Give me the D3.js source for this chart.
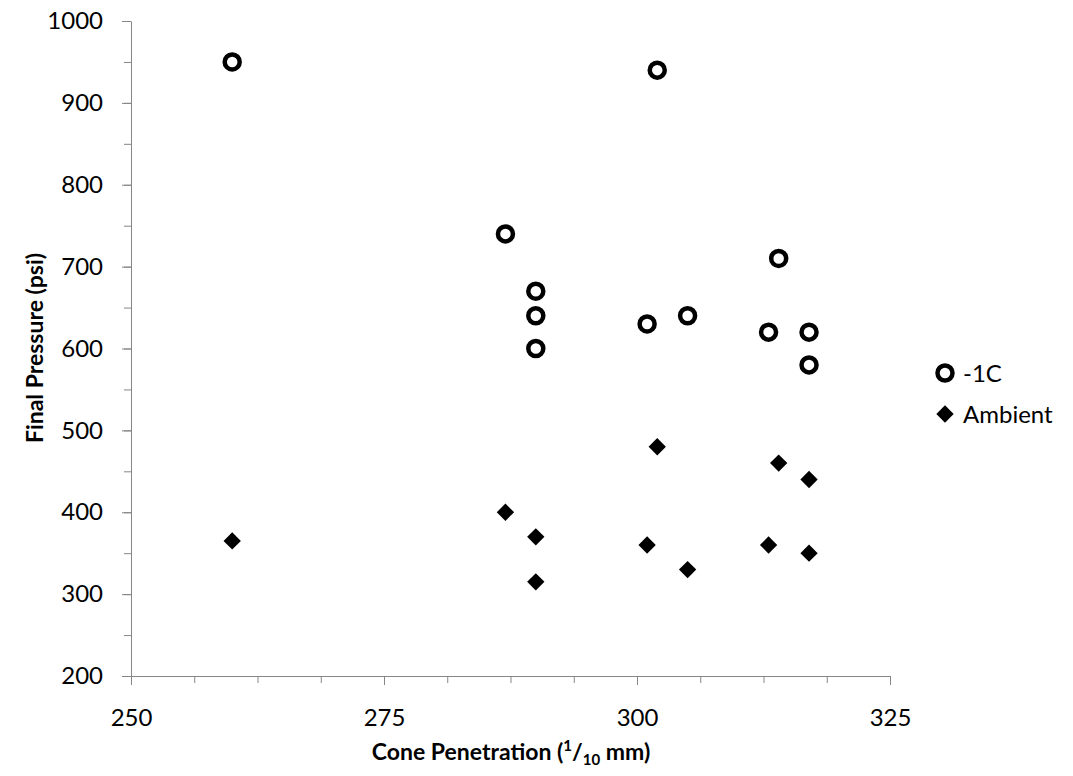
<!DOCTYPE html>
<html>
<head>
<meta charset="utf-8">
<script src="https://cdn.jsdelivr.net/npm/d3@7"></script>
<style>
  body { margin: 0; background: #fff; }
  text { font-family: Lato, "Open Sans", sans-serif; fill: #000; }
</style>
</head>
<body>
<div id="scatter"></div>
<script>
// data
var penetration1C = [260, 302, 287, 290, 290, 290, 301, 305, 313, 314, 317, 317];
var pressure1C    = [950, 940, 740, 670, 640, 600, 630, 640, 620, 710, 620, 580];
var penetrationAmb = [260, 287, 290, 290, 301, 302, 305, 313, 314, 317, 317];
var pressureAmb    = [365, 400, 370, 315, 360, 480, 330, 360, 460, 440, 350];
var xTicks = [250, 275, 300, 325];
var yTicks = [200, 300, 400, 500, 600, 700, 800, 900, 1000];
var seriesNames = ["-1C", "Ambient"];

var width = 1073, height = 776;
var axisColor = "#868686";

var svg = d3.select("#scatter")
  .append("svg")
    .attr("width", width)
    .attr("height", height);

var x = d3.scaleLinear()
  .domain([250, 325])
  .range([131, 890]);
var y = d3.scaleLinear()
  .domain([200, 1000])
  .range([676, 21]);

// minor ticks first
svg.append("g")
  .attr("transform", "translate(0,676)")
  .call(d3.axisBottom(x).tickValues(d3.range(250, 325.01, 6.25)).tickSize(7).tickFormat(""))
  .call(g => g.select(".domain").remove())
  .call(g => g.selectAll("line").attr("stroke", axisColor));
svg.append("g")
  .attr("transform", "translate(131,0)")
  .call(d3.axisLeft(y).tickValues(d3.range(200, 1001, 50)).tickSize(7).tickFormat(""))
  .call(g => g.select(".domain").remove())
  .call(g => g.selectAll("line").attr("stroke", axisColor));

// X axis
svg.append("g")
  .attr("transform", "translate(0,676)")
  .call(d3.axisBottom(x).tickValues(xTicks).tickFormat(d3.format("d")).tickSizeInner(9).tickSizeOuter(0).tickPadding(24))
  .call(g => g.select(".domain").attr("stroke", axisColor))
  .call(g => g.selectAll("line").attr("stroke", axisColor))
  .call(g => g.selectAll("text").attr("font-size", "24px").attr("font-family", "Lato").attr("fill", "#000"));

// Y axis
svg.append("g")
  .attr("transform", "translate(131,0)")
  .call(d3.axisLeft(y).tickValues(yTicks).tickFormat(d3.format("d")).tickSizeInner(9).tickSizeOuter(0).tickPadding(19))
  .call(g => g.select(".domain").attr("stroke", axisColor))
  .call(g => g.selectAll("line").attr("stroke", axisColor))
  .call(g => g.selectAll("text").attr("font-size", "24px").attr("font-family", "Lato").attr("fill", "#000"));

// axis titles
var xt = svg.append("text")
  .attr("x", 511)
  .attr("y", 760)
  .attr("text-anchor", "middle")
  .attr("font-size", "23px")
  .attr("font-weight", "bold");
xt.append("tspan").text("Cone Penetration (");
xt.append("tspan").attr("font-size", "15px").attr("dy", "-9").text("1");
xt.append("tspan").attr("dy", "9").text("/");
xt.append("tspan").attr("font-size", "15px").attr("dy", "5").text("10");
xt.append("tspan").attr("dy", "-5").text(" mm)");

svg.append("text")
  .attr("transform", "translate(43,348) rotate(-90)")
  .attr("text-anchor", "middle")
  .attr("font-size", "23px")
  .attr("font-weight", "bold")
  .text("Final Pressure (psi)");

// Ambient diamonds
var diamond = d3.symbol().type(d3.symbolSquare).size(150);
svg.append("g")
  .selectAll("path")
  .data(penetrationAmb)
  .enter()
  .append("path")
  .attr("d", diamond)
  .attr("transform", (d, i) => "translate(" + x(d) + "," + y(pressureAmb[i]) + ") rotate(45)")
  .attr("fill", "#000");

// -1C circles
svg.append("g")
  .selectAll("circle")
  .data(penetration1C)
  .enter()
  .append("circle")
  .attr("cx", d => x(d))
  .attr("cy", (d, i) => y(pressure1C[i]))
  .attr("r", 7.5)
  .attr("fill", "none")
  .attr("stroke", "#000")
  .attr("stroke-width", 4.5);

// legend
var legend = svg.append("g");
legend.append("circle")
  .attr("cx", 945).attr("cy", 373).attr("r", 7.5)
  .attr("fill", "none").attr("stroke", "#000").attr("stroke-width", 4.5);
legend.append("path")
  .attr("d", diamond)
  .attr("transform", "translate(945,414) rotate(45)")
  .attr("fill", "#000");
legend.selectAll("text")
  .data(seriesNames)
  .enter()
  .append("text")
  .attr("x", 963)
  .attr("y", (d, i) => 382 + i * 41)
  .attr("font-size", "24px")
  .text(d => d);
</script>
</body>
</html>
